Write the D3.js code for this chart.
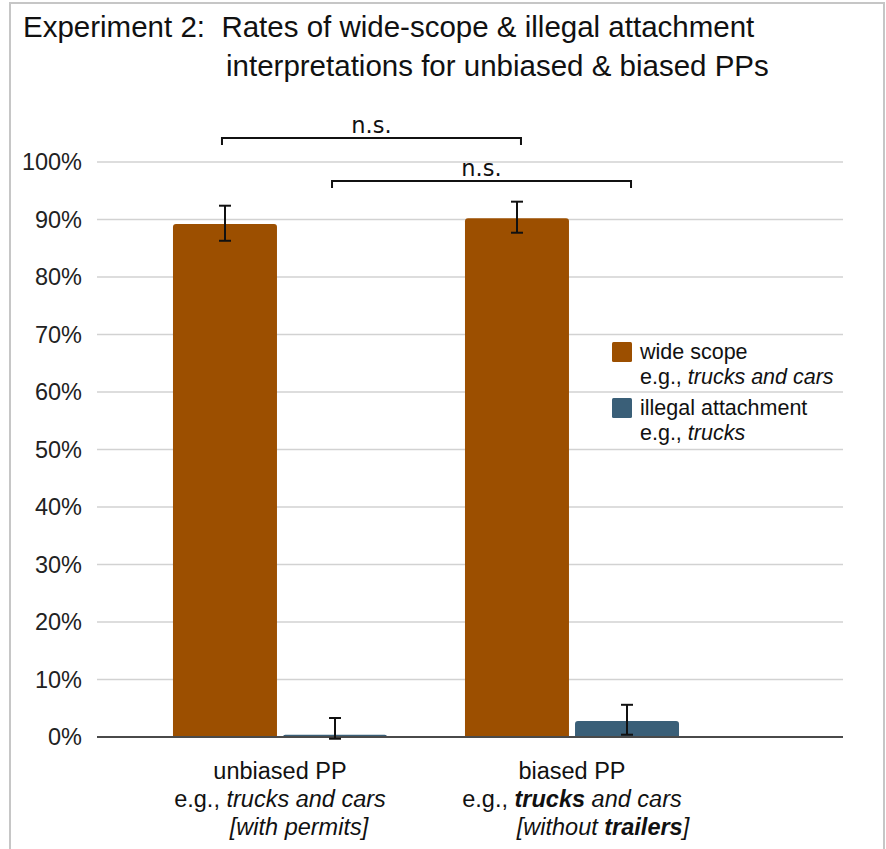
<!DOCTYPE html>
<html>
<head>
<meta charset="utf-8">
<script src="https://cdn.jsdelivr.net/npm/d3@7"></script>
<style>
  html, body { margin: 0; padding: 0; background: #fff; }
  svg { display: block; font-family: "Liberation Sans", Arial, sans-serif; }
  text { white-space: pre; }
</style>
</head>
<body>
<svg id="chart" width="886" height="849"></svg>
<script>
// Condition categories (x axis)
const categories = ["unbiased", "biased"];
// Interpretation types (series)
const series = ["wide", "illegal"];
// Proportions of each interpretation per condition
const wideScope = [0.892, 0.902];
const illegalAttachment = [0.004, 0.028];
// Error bar extents (lower, upper)
const wideLow = [0.863, 0.877];
const wideHigh = [0.924, 0.931];
const illegalLow = [-0.003, 0.004];
const illegalHigh = [0.033, 0.056];
// Y axis ticks
const yTicks = [0, 0.1, 0.2, 0.3, 0.4, 0.5, 0.6, 0.7, 0.8, 0.9, 1.0];
// Significance brackets: [category A, series A, category B, series B, label]
const brackets = [
  ["unbiased", "wide", "biased", "wide", "n.s."],
  ["unbiased", "illegal", "biased", "illegal", "n.s."]
];

const colors = { wide: "#9c4f00", illegal: "#3a5f78" };

const values = { wide: wideScope, illegal: illegalAttachment };
const lows = { wide: wideLow, illegal: illegalLow };
const highs = { wide: wideHigh, illegal: illegalHigh };

const svg = d3.select("#chart");

// Outer frame
svg.append("rect")
  .attr("x", 10).attr("y", 3)
  .attr("width", 874).attr("height", 870)
  .attr("fill", "none").attr("stroke", "#c6c6c6").attr("stroke-width", 2);

// Title
const title = svg.append("text")
  .attr("font-size", 29.5).attr("fill", "#111");
title.append("tspan").attr("x", 23).attr("y", 37)
  .text("Experiment 2:  Rates of wide-scope & illegal attachment");
title.append("tspan").attr("x", 226).attr("y", 76)
  .text("interpretations for unbiased & biased PPs");

const plotLeft = 97, plotRight = 843;
const y = d3.scaleLinear().domain([0, 1]).range([737, 162]);

const x0 = d3.scaleBand().domain(categories)
  .range([134, 718]).paddingInner(0.267).paddingOuter(0.1335);
const x1 = d3.scaleBand().domain(series)
  .range([0, x0.bandwidth()]).paddingInner(0.055);

// Gridlines
svg.append("g").selectAll("line")
  .data(yTicks.filter(d => d > 0))
  .join("line")
  .attr("x1", plotLeft).attr("x2", plotRight)
  .attr("y1", d => y(d)).attr("y2", d => y(d))
  .attr("stroke", "#d2d2d2").attr("stroke-width", 1.5);

// Y axis labels
const yAxis = d3.axisLeft(y).tickValues(yTicks)
  .tickFormat(d3.format(".0%")).tickSize(0).tickPadding(15);
const yG = svg.append("g").attr("transform", `translate(${plotLeft},0)`).call(yAxis);
yG.select(".domain").remove();
yG.selectAll("text")
  .attr("font-family", "'Liberation Sans', Arial, sans-serif")
  .attr("font-size", 23.5).attr("fill", "#222");

// Rounded-top bar path
function barPath(x, yTop, w, yBase, r) {
  const h = yBase - yTop;
  const rr = Math.min(r, h, w / 2);
  return `M${x},${yBase}V${yTop + rr}Q${x},${yTop} ${x + rr},${yTop}` +
         `H${x + w - rr}Q${x + w},${yTop} ${x + w},${yTop + rr}V${yBase}Z`;
}

const barData = [];
categories.forEach((c, i) => {
  series.forEach(s => {
    barData.push({ c, s, v: values[s][i], lo: lows[s][i], hi: highs[s][i] });
  });
});

svg.append("g").selectAll("path")
  .data(barData)
  .join("path")
  .attr("d", d => barPath(x0(d.c) + x1(d.s), y(d.v), x1.bandwidth(), y(0), 3))
  .attr("fill", d => colors[d.s]);

// Zero baseline
svg.append("line")
  .attr("x1", plotLeft).attr("x2", plotRight)
  .attr("y1", y(0)).attr("y2", y(0))
  .attr("stroke", "#4a4a4a").attr("stroke-width", 2);

// Error bars
const eb = svg.append("g").attr("stroke", "#111").attr("stroke-width", 2).attr("fill", "none");
barData.forEach(d => {
  const cx = x0(d.c) + x1(d.s) + x1.bandwidth() / 2;
  eb.append("line").attr("x1", cx).attr("x2", cx).attr("y1", y(d.hi)).attr("y2", y(d.lo));
  eb.append("line").attr("x1", cx - 6).attr("x2", cx + 6).attr("y1", y(d.hi)).attr("y2", y(d.hi));
  eb.append("line").attr("x1", cx - 6).attr("x2", cx + 6).attr("y1", y(d.lo)).attr("y2", y(d.lo));
});

// Significance brackets
const bracketY = [138, 181];
brackets.forEach((b, i) => {
  const xa = x0(b[0]) + x1(b[1]) + x1.bandwidth() / 2 - 3;
  const xb = x0(b[2]) + x1(b[3]) + x1.bandwidth() / 2 + 4;
  const by = bracketY[i];
  svg.append("path")
    .attr("d", `M${xa},${by + 7}V${by}H${xb}V${by + 7}`)
    .attr("fill", "none").attr("stroke", "#111").attr("stroke-width", 2);
  svg.append("text")
    .attr("x", (xa + xb) / 2).attr("y", by - 5)
    .attr("text-anchor", "middle")
    .attr("font-family", "'DejaVu Sans', sans-serif")
    .attr("font-size", 22.5).attr("fill", "#111")
    .text(b[4]);
});

// Category labels
const labelLines = {
  unbiased: [
    [{ t: "unbiased PP" }],
    [{ t: "e.g., " }, { t: "trucks and cars", i: true }],
    [{ t: "[with permits]", i: true }]
  ],
  biased: [
    [{ t: "biased PP" }],
    [{ t: "e.g., " }, { t: "trucks", i: true, b: true }, { t: " and cars", i: true }],
    [{ t: "[without ", i: true }, { t: "trailers", i: true, b: true }, { t: "]", i: true }]
  ]
};
const thirdLineShift = { unbiased: 19, biased: 31 };
categories.forEach(c => {
  const cx = x0(c) + x0.bandwidth() / 2;
  labelLines[c].forEach((parts, li) => {
    const t = svg.append("text")
      .attr("x", cx + (li === 2 ? thirdLineShift[c] : 0))
      .attr("y", 779 + li * 28)
      .attr("text-anchor", "middle")
      .attr("font-size", 23.5).attr("fill", "#111");
    parts.forEach(p => {
      t.append("tspan")
        .attr("font-style", p.i ? "italic" : "normal")
        .attr("font-weight", p.b ? "bold" : "normal")
        .text(p.t);
    });
  });
});

// Legend
const legendItems = [
  { s: "wide", l1: [{ t: "wide scope" }], l2: [{ t: "e.g., " }, { t: "trucks and cars", i: true }] },
  { s: "illegal", l1: [{ t: "illegal attachment" }], l2: [{ t: "e.g., " }, { t: "trucks", i: true }] }
];
const legend = svg.append("g").attr("transform", "translate(612,342)");
legendItems.forEach((it, i) => {
  const g = legend.append("g").attr("transform", `translate(0,${i * 56})`);
  g.append("rect").attr("width", 20).attr("height", 20).attr("rx", 1.5)
    .attr("fill", colors[it.s]);
  [it.l1, it.l2].forEach((parts, li) => {
    const t = g.append("text").attr("x", 28).attr("y", 17 + li * 25)
      .attr("font-size", 21.5).attr("fill", "#111");
    parts.forEach(p => {
      t.append("tspan").attr("font-style", p.i ? "italic" : "normal").text(p.t);
    });
  });
});
</script>
</body>
</html>
